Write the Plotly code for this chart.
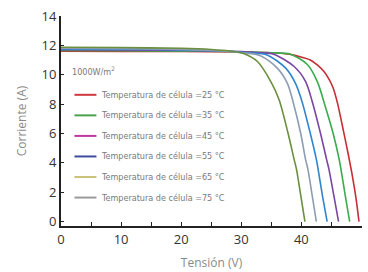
import plotly.graph_objects as go

# ---- data ----
temps = [25, 35, 45, 55, 65, 75]
legend_labels = ["Temperatura de célula =%d °C" % t for t in temps]

v25 = [0, 10, 20, 30, 35, 37.7, 39.5, 41.5, 42.7, 43.8, 44.6, 45.3, 46.0, 47.0, 47.9, 48.5, 49.1, 49.6]
i25 = [11.60, 11.59, 11.58, 11.55, 11.50, 11.42, 11.25, 11.0, 10.65, 10.2, 9.7, 9.1, 8.1, 6.2, 4.4, 3.1, 1.6, 0]

v35 = [0, 10, 20, 30, 35, 38.2, 41.0, 42.7, 43.8, 45.3, 46.3, 46.6, 47.3, 48.05]
i35 = [11.65, 11.63, 11.61, 11.57, 11.50, 11.40, 10.7, 9.5, 8.1, 6.0, 4.24, 3.56, 1.8, 0]

v45 = [0, 10, 20, 30, 33, 35.4, 38.8, 40.7, 41.8, 43.2, 44.2, 44.6, 45.4, 46.2]
i45 = [11.70, 11.68, 11.65, 11.58, 11.50, 11.40, 10.56, 9.55, 8.2, 6.0, 4.24, 3.56, 1.8, 0]

v55 = [0, 10, 20, 28, 31, 34.3, 37.4, 39.05, 40.1, 41.5, 42.5, 42.8, 43.5, 44.3]
i55 = [11.75, 11.73, 11.69, 11.60, 11.50, 11.35, 10.45, 9.4, 8.2, 6.0, 4.24, 3.56, 1.8, 0]

v65 = [0, 10, 20, 27, 30, 33.2, 36.0, 37.7, 38.6, 39.9, 40.7, 41.1, 41.8, 42.5]
i65 = [11.80, 11.78, 11.73, 11.62, 11.50, 11.30, 10.45, 9.4, 8.2, 6.0, 4.24, 3.56, 1.8, 0]

v75 = [0, 10, 20, 25, 28, 30.4, 32.7, 34.9, 36.3, 37.8, 38.8, 39.2, 39.9, 40.6]
i75 = [11.87, 11.85, 11.80, 11.72, 11.62, 11.45, 10.9, 9.55, 8.3, 6.0, 4.24, 3.56, 1.8, 0]

voltages = [v25, v35, v45, v55, v65, v75]
currents = [i25, i35, i45, i55, i65, i75]

curve_colors = ["#c62f36", "#3bab4c", "#7b45a3", "#2f86cf", "#8d9db3", "#6b8f3e"]
legend_colors = ["#d0373c", "#4ba14f", "#c0389e", "#3d4c9c", "#cbc27a", "#9a9a9a"]

irradiance_label = "1000W/m<sup>2</sup>"
x_tick_vals = [0, 10, 20, 30, 40, 50]
y_tick_vals = [0, 2, 4, 6, 8, 10, 12, 14]

fig = go.Figure()
for v, i, c in zip(voltages, currents, curve_colors):
    fig.add_trace(go.Scatter(x=v, y=i, mode="lines",
                             line=dict(color=c, width=1.6, shape="spline", smoothing=0.8),
                             showlegend=False, hoverinfo="skip"))

# custom legend (paper coordinates)
PLOT_L, PLOT_R, PLOT_T, PLOT_B = 60.5, 362.0, 16.0, 226.5
def py2paper(py):
    return (PLOT_B - py) / (PLOT_B - PLOT_T)
def px2paper(px):
    return (px - PLOT_L) / (PLOT_R - PLOT_L)

legend_font = dict(family="DejaVu Sans Condensed, Liberation Sans Narrow, sans-serif", size=9, color="#7a7a7a")
rows = [95, 115.6, 136.2, 156.8, 177.4, 198]
shapes = []
annotations = []
for lab, col, py in zip(legend_labels, legend_colors, rows):
    shapes.append(dict(type="line", xref="paper", yref="paper",
                       x0=px2paper(74), x1=px2paper(96), y0=py2paper(py), y1=py2paper(py),
                       line=dict(color=col, width=2)))
    annotations.append(dict(xref="paper", yref="paper", x=px2paper(99), y=py2paper(py),
                            text=lab, showarrow=False, xanchor="left", yanchor="middle", font=legend_font))
annotations.append(dict(xref="paper", yref="paper", x=px2paper(70), y=py2paper(71.5),
                        text=irradiance_label, showarrow=False, xanchor="left", yanchor="middle", font=legend_font))

axis_font = dict(family="Open Sans, sans-serif", size=13, color="#333333")
title_font = dict(family="Open Sans, sans-serif", size=12, color="#8a8a8a")

fig.update_layout(
    width=368, height=272,
    margin=dict(l=PLOT_L, r=368 - PLOT_R, t=PLOT_T, b=272 - PLOT_B, autoexpand=False),
    paper_bgcolor="white", plot_bgcolor="white",
    shapes=shapes, annotations=annotations,
    xaxis=dict(range=[0, 50.1], tickvals=x_tick_vals, ticks="inside", ticklen=4, tickwidth=1.2, tickcolor="#222",
               minor=dict(dtick=5, tick0=0, ticks="inside", ticklen=4, tickwidth=1.2, tickcolor="#222"),
               showline=True, linecolor="#222", linewidth=2, showgrid=False, zeroline=False,
               tickfont=axis_font, automargin=False,
               title=dict(text="Tensión (V)", font=title_font, standoff=12)),
    yaxis=dict(range=[-0.3, 14], tickvals=y_tick_vals, ticks="inside", ticklen=3, tickwidth=1.2, tickcolor="#222",
               showline=True, linecolor="#222", linewidth=2, showgrid=False, zeroline=False,
               tickfont=axis_font, automargin=False,
               title=dict(text="Corriente (A)", font=title_font, standoff=12)),
)

fig.write_html("out.html", config={"displayModeBar": False},
               post_script="document.body.style.margin='0';")
